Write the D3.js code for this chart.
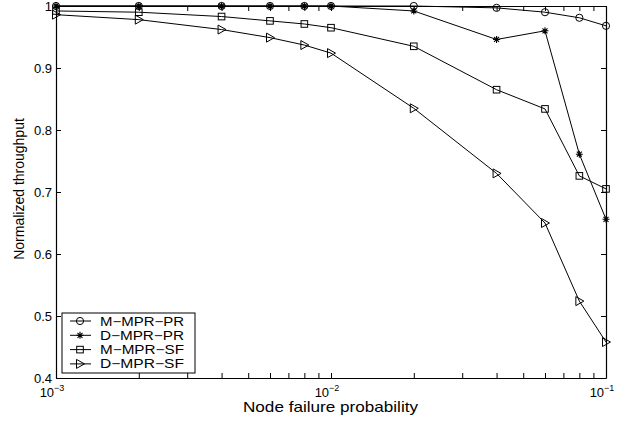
<!DOCTYPE html>
<html>
<head>
<meta charset="utf-8">
<script src="https://cdn.jsdelivr.net/npm/d3@7"></script>
<style>
  body { margin: 0; background: #fff; }
  svg { font-family: "Liberation Sans", Arial, Helvetica, sans-serif; }
</style>
</head>
<body>
<svg id="chart" width="629" height="421"></svg>
<script>
const failProb = [0.001, 0.002, 0.004, 0.006, 0.008, 0.01, 0.02, 0.04, 0.06, 0.08, 0.1];
const mMprPr = [1.0, 1.0, 1.0, 1.0, 1.0, 1.0, 1.0, 0.997, 0.990, 0.981, 0.968];
const dMprPr = [1.0, 1.0, 1.0, 1.0, 1.0, 1.0, 0.992, 0.946, 0.960, 0.761, 0.656];
const mMprSf = [0.992, 0.990, 0.983, 0.976, 0.971, 0.965, 0.935, 0.865, 0.834, 0.726, 0.705];
const dMprSf = [0.986, 0.978, 0.962, 0.949, 0.937, 0.924, 0.835, 0.730, 0.650, 0.524, 0.458];
const seriesNames = ['M\u2212MPR\u2212PR', 'D\u2212MPR\u2212PR', 'M\u2212MPR\u2212SF', 'D\u2212MPR\u2212SF'];
const seriesMarkers = ['circle', 'star', 'square', 'triangle'];
const yTicks = [0.4, 0.5, 0.6, 0.7, 0.8, 0.9, 1];
const yTickLabels = ['0.4', '0.5', '0.6', '0.7', '0.8', '0.9', '1'];
const xMajor = [0.001, 0.01, 0.1];
const xExponents = ['\u22123', '\u22122', '\u22121'];

const margin = { top: 6, right: 23, bottom: 43, left: 56 };
const width = 629 - margin.left - margin.right;
const height = 421 - margin.top - margin.bottom;

const svg = d3.select('#chart');
const g = svg.append('g').attr('transform', `translate(${margin.left},${margin.top})`);

const x = d3.scaleLog().domain([0.001, 0.1]).range([0, width]);
const y = d3.scaleLinear().domain([0.4, 1]).range([height, 0]);

const allX = x.ticks();

// axes with inward ticks
g.append('g').attr('transform', `translate(0,${height})`)
  .call(d3.axisBottom(x).tickValues(allX).tickSizeInner(-5).tickSizeOuter(0).tickFormat(''));
g.append('g')
  .call(d3.axisTop(x).tickValues(allX).tickSizeInner(-5).tickSizeOuter(0).tickFormat(''));
g.append('g')
  .call(d3.axisLeft(y).tickValues(yTicks).tickSizeInner(-5).tickSizeOuter(0)
    .tickPadding(4).tickFormat((d, i) => yTickLabels[i]));
g.append('g').attr('transform', `translate(${width},0)`)
  .call(d3.axisRight(y).tickValues(yTicks).tickSizeInner(-5).tickSizeOuter(0).tickFormat(''));

g.selectAll('.domain').attr('stroke', '#000').attr('stroke-width', 1.2);
g.selectAll('.tick line').attr('stroke', '#000');
g.selectAll('.tick text').attr('font-size', 13).attr('fill', '#000')
  .attr('font-family', '"Liberation Sans", Arial, sans-serif');

// x major labels 10^n
xMajor.forEach((v, i) => {
  const t = g.append('text')
    .attr('x', x(v) - 4)
    .attr('y', height + 19)
    .attr('text-anchor', 'middle')
    .attr('font-size', 13);
  t.append('tspan').text('10');
  t.append('tspan').attr('dy', -6).attr('font-size', 9).text(xExponents[i]);
});

// axis titles
svg.append('text')
  .attr('x', 243)
  .attr('y', 412)
  .attr('font-size', 14.5)
  .attr('textLength', 175)
  .attr('lengthAdjust', 'spacingAndGlyphs')
  .text('Node failure probability');
svg.append('text')
  .attr('transform', `translate(24,${margin.top + height / 2 - 3}) rotate(-90)`)
  .attr('text-anchor', 'middle')
  .attr('font-size', 14)
  .text('Normalized throughput');

function drawMarker(sel, type) {
  if (type === 'circle') {
    sel.append('circle').attr('r', 3.6).attr('fill', 'none').attr('stroke', '#000');
  } else if (type === 'square') {
    sel.append('rect').attr('x', -3.3).attr('y', -3.3).attr('width', 6.6).attr('height', 6.6)
      .attr('fill', 'none').attr('stroke', '#000');
  } else if (type === 'triangle') {
    sel.append('path').attr('d', 'M-3.5,-4.5L4.5,0L-3.5,4.5Z')
      .attr('fill', 'none').attr('stroke', '#000');
  } else {
    sel.append('path').attr('d', 'M-3.5,0L3.5,0M0,-3.5L0,3.5M-2.5,-2.5L2.5,2.5M-2.5,2.5L2.5,-2.5')
      .attr('fill', 'none').attr('stroke', '#000').attr('stroke-width', 1.1);
  }
}

const series = [mMprPr, dMprPr, mMprSf, dMprSf];
const line = d3.line().x((d, i) => x(failProb[i])).y(d => y(d));

series.forEach((vals, s) => {
  g.append('path').datum(vals)
    .attr('d', line)
    .attr('fill', 'none')
    .attr('stroke', '#000')
    .attr('stroke-width', 1);
  vals.forEach((v, i) => {
    const m = g.append('g').attr('transform', `translate(${x(failProb[i])},${y(v)})`);
    drawMarker(m, seriesMarkers[s]);
  });
});

// legend
const legend = g.append('g').attr('transform', 'translate(6,307)');
legend.append('rect')
  .attr('width', 133).attr('height', 60)
  .attr('fill', '#fff').attr('stroke', '#000').attr('stroke-width', 1);
seriesNames.forEach((name, i) => {
  const row = legend.append('g').attr('transform', `translate(0,${8 + i * 14.3})`);
  row.append('line').attr('x1', 8).attr('x2', 29).attr('stroke', '#000');
  const m = row.append('g').attr('transform', 'translate(18,0)');
  drawMarker(m, seriesMarkers[i]);
  row.append('text').attr('x', 38).attr('y', 4.5).attr('font-size', 12.3)
    .attr('textLength', 84).attr('lengthAdjust', 'spacingAndGlyphs').text(name);
});
</script>
</body>
</html>
